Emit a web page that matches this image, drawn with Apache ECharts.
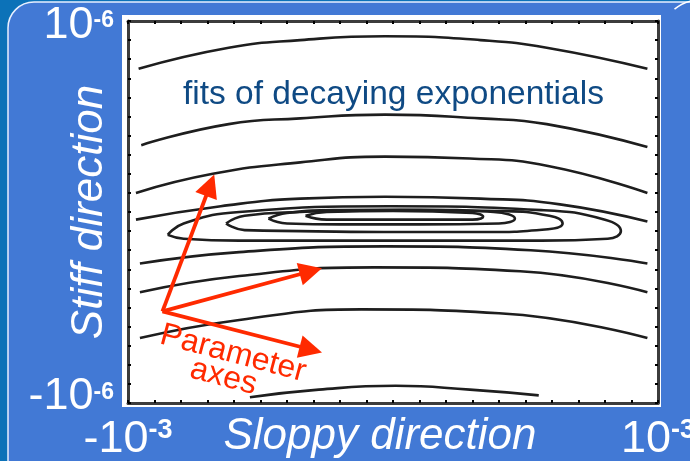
<!DOCTYPE html>
<html><head><meta charset="utf-8">
<script src="https://cdn.jsdelivr.net/npm/echarts@6/dist/echarts.min.js"></script>
<style>html,body{margin:0;padding:0;background:#0c72b8}#c{width:690px;height:461px}</style>
</head><body><div id="c"></div><script>
// ---- data (x in units of 1e-3, y in units of 1e-6) ----
const xTickValues = [-1, 1];
const xTickBase = ['-10', '10'];
const xTickExp = ['-3', '-3'];
const yTickValues = [-1, 1];
const yTickBase = ['-10', '10'];
const yTickExp = ['-6', '-6'];
const xAxisName = 'Sloppy direction';
const yAxisName = 'Stiff direction';
const annotation = 'fits of decaying exponentials';
const arrowLabel = ['Parameter', 'axes'];

const contour1 = [[-0.96,0.75],[-0.62,0.86],[-0.35,0.90],[-0.03,0.92],[0.33,0.90],[0.58,0.86],[0.96,0.75]];
const contour2 = [[-0.95,0.35],[-0.62,0.46],[-0.35,0.49],[-0.03,0.51],[0.33,0.49],[0.58,0.46],[0.96,0.34]];
const contour3 = [[-0.97,0.10],[-0.68,0.20],[-0.35,0.26],[-0.03,0.29],[0.29,0.28],[0.59,0.24],[0.96,0.10]];
const contour4 = [[-0.97,-0.04],[-0.65,0.03],[-0.35,0.07],[-0.03,0.08],[0.33,0.07],[0.63,0.04],[0.96,-0.05]];
const loopA = [[-0.85,-0.12],[-0.79,-0.06],[-0.58,0.0],[-0.01,0.03],[0.56,0.01],[0.80,-0.04],[0.86,-0.10],[0.81,-0.14],[0.56,-0.15],[-0.01,-0.15],[-0.58,-0.15],[-0.79,-0.14],[-0.85,-0.12]];
const loopB = [[-0.63,-0.06],[-0.56,-0.02],[-0.35,0.0],[0.03,0.01],[0.40,0.005],[0.59,-0.02],[0.64,-0.06],[0.585,-0.09],[0.33,-0.105],[0.03,-0.105],[-0.35,-0.10],[-0.56,-0.095],[-0.63,-0.06]];
const loopC = [[-0.47,-0.035],[-0.40,-0.005],[-0.2,0.01],[0.1,0.012],[0.38,0.0],[0.46,-0.035],[0.40,-0.06],[0.1,-0.065],[-0.2,-0.065],[-0.40,-0.06],[-0.47,-0.035]];
const loopD = [[-0.33,-0.02],[-0.25,0.0],[0.0,0.005],[0.30,-0.005],[0.34,-0.025],[0.30,-0.04],[0.0,-0.04],[-0.25,-0.04],[-0.33,-0.02]];
const contour5 = [[-0.955,-0.27],[-0.58,-0.21],[-0.03,-0.18],[0.52,-0.20],[0.96,-0.27]];
const contour6 = [[-0.955,-0.42],[-0.58,-0.335],[-0.07,-0.29],[0.48,-0.31],[0.96,-0.42]];
const contour7 = [[-0.955,-0.66],[-0.58,-0.565],[-0.12,-0.51],[0.40,-0.53],[0.96,-0.66]];
const contour8 = [[-0.54,-0.97],[-0.28,-0.93],[0.01,-0.91],[0.29,-0.93],[0.55,-0.96]];

const arrowOrigin = [-0.87, -0.52];
const arrowEnds = [[-0.69, 0.14], [-0.31, -0.31], [-0.31, -0.72]];

const contours = [contour1, contour2, contour3, contour4, loopA, loopB, loopC, loopD, contour5, contour6, contour7, contour8];

// ---- chart ----
const chart = echarts.init(document.getElementById('c'), null, {renderer: 'canvas'});
const FONT = '"Liberation Sans", Arial, sans-serif';
const BLUE = '#4279d5';

function tickFmt(values, base, exp, styles) {
  return function (v) {
    for (let i = 0; i < values.length; i++) {
      if (Math.abs(v - values[i]) < 1e-9) return '{' + styles[i][0] + '|' + base[i] + '}{' + styles[i][1] + '|' + exp[i] + '}';
    }
    return '';
  };
}
const frameLine = {show: true, onZero: false, lineStyle: {color: '#3c3c3c', width: 3}};
const frameTick = {show: true, inside: true, length: 3, lineStyle: {color: '#000', width: 2}};

const series = contours.map(c => ({
  type: 'line', data: c, smooth: 0.5, showSymbol: false, symbol: 'none',
  lineStyle: {color: '#1e1e1e', width: 2.6}, silent: true, z: 3
}));
series.push({
  type: 'lines', coordinateSystem: 'cartesian2d', polyline: false,
  symbol: ['none', 'triangle'], symbolSize: [18, 23],
  lineStyle: {color: '#ff2a00', width: 3.8, opacity: 1, curveness: 0},
  data: arrowEnds.map(e => ({coords: [arrowOrigin, e]})),
  silent: true, z: 10
});

const W = '#fff';
chart.setOption({
  backgroundColor: '#0c72b8',
  animation: false,
  grid: {left: 128, right: 32, top: 21, bottom: 58, show: false, containLabel: false, outerBoundsMode: 'none'},
  xAxis: [{
    type: 'value', min: -1, max: 1, interval: 0.1, position: 'bottom', z: 6,
    axisLine: frameLine, axisTick: frameTick, splitLine: {show: false},
    axisLabel: {show: true, margin: 14, formatter: tickFmt(xTickValues, xTickBase, xTickExp, [['b','s'],['b','s']]), showMinLabel: true, showMaxLabel: true,
      rich: {b: {fontSize: 45, color: W, fontFamily: FONT, lineHeight: 46},
             s: {fontSize: 27, fontWeight: 'bold', color: W, fontFamily: FONT, verticalAlign: 'top', lineHeight: 46}}},
    name: xAxisName, nameLocation: 'middle', nameGap: 12, nameMoveOverlap: false,
    nameTextStyle: {color: W, fontSize: 44, fontStyle: 'italic', fontFamily: FONT, padding: [0, 26, 0, 0]}
  }, {
    type: 'value', min: -1, max: 1, interval: 0.1, position: 'top', z: 6,
    axisLine: frameLine, axisTick: frameTick, splitLine: {show: false}, axisLabel: {show: false}
  }],
  yAxis: [{
    type: 'value', min: -1, max: 1, interval: 0.1, position: 'left', z: 6,
    axisLine: frameLine, axisTick: frameTick, splitLine: {show: false},
    axisLabel: {show: true, margin: 14, formatter: tickFmt(yTickValues, yTickBase, yTickExp, [['bb','sb'],['bt','st']]), showMinLabel: true, showMaxLabel: true,
      rich: {bt: {fontSize: 45, color: W, fontFamily: FONT, lineHeight: 44, padding: [10, 0, 0, 0]},
             st: {fontSize: 23, fontWeight: 'bold', color: W, fontFamily: FONT, verticalAlign: 'top', lineHeight: 44, padding: [10, 0, 0, 0]},
             bb: {fontSize: 45, color: W, fontFamily: FONT, lineHeight: 44, padding: [0, 0, 12, 0]},
             sb: {fontSize: 23, fontWeight: 'bold', color: W, fontFamily: FONT, verticalAlign: 'top', lineHeight: 44, padding: [0, 0, 12, 0]}}},
    name: yAxisName, nameLocation: 'middle', nameGap: 16, nameRotate: 90, nameMoveOverlap: false,
    nameTextStyle: {color: W, fontSize: 44, fontStyle: 'italic', fontFamily: FONT}
  }, {
    type: 'value', min: -1, max: 1, interval: 0.1, position: 'right', z: 6,
    axisLine: frameLine, axisTick: frameTick, splitLine: {show: false}, axisLabel: {show: false}
  }],
  graphic: [
    {type: 'rect', z: -20, shape: {x: 8, y: 2, width: 760, height: 520, r: 26},
     style: {fill: BLUE, stroke: '#e8f0ff', lineWidth: 1.5}},
    {type: 'rect', z: -10, shape: {x: 122, y: 15, width: 539, height: 392}, style: {fill: '#fff'}},
    {type: 'text', z: 50, left: 183, top: 78,
     style: {text: annotation, fill: '#0f4a84', font: '33.5px ' + FONT}},
    {type: 'text', z: 50, x: 165, y: 319, rotation: -0.26,
     style: {text: arrowLabel[0], fill: '#ff2a00', font: '32px ' + FONT}},
    {type: 'text', z: 50, x: 195, y: 353, rotation: -0.26,
     style: {text: arrowLabel[1], fill: '#ff2a00', font: '32px ' + FONT}},
    {type: 'text', z: 50, x: 650, y: -22,
     style: {text: 'λ', fill: '#fff', font: 'italic 28px ' + FONT}},
    {type: 'arc', z: 50, shape: {cx: 700, cy: 40, r: 40, startAngle: -Math.PI * 0.72, endAngle: -Math.PI * 0.5},
     style: {stroke: '#fff', lineWidth: 1.5, fill: null}}
  ],
  series: series
});
</script></body></html>
